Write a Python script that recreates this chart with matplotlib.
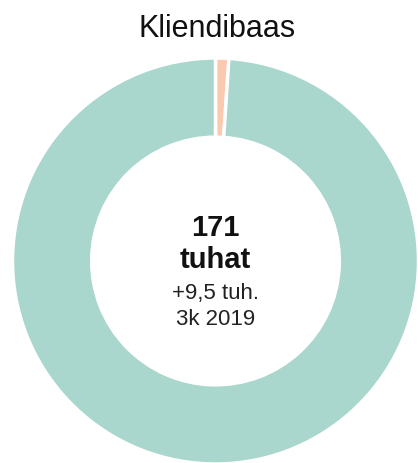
import matplotlib.pyplot as plt

# Kliendibaas (tuhat)
segments = ["Uued", "Olemasolevad"]
values = [1.8, 169.2]
colors = ["#fbc8b0", "#a9d6cd"]

title = "Kliendibaas"
center_big = ["171", "tuhat"]
center_small = ["+9,5 tuh.", "3k 2019"]

plt.rcParams["font.family"] = ["Liberation Sans", "DejaVu Sans"]

fig = plt.figure(figsize=(4.18, 4.64), dpi=100)
ax = fig.add_axes([0, 0, 1, 1])

# axes in pixel units, y upwards
cx, cy, r = 215.5, 464 - 262, 203
ax.pie(values, colors=colors, startangle=90, counterclock=False,
       center=(cx, cy), radius=r, frame=True,
       wedgeprops=dict(width=r * 0.39, edgecolor="white", linewidth=2.5))
ax.set_xlim(0, 418)
ax.set_ylim(0, 464)
ax.set_aspect("equal")
ax.axis("off")

ax.text(217, 464 - 37, title, ha="center", va="baseline", fontsize=22, color="#111111")
ax.text(cx, 464 - 236, center_big[0], ha="center", va="baseline",
        fontsize=21, fontweight="bold", color="#111111")
ax.text(cx, 464 - 268, center_big[1], ha="center", va="baseline",
        fontsize=21, fontweight="bold", color="#111111")
ax.text(cx, 464 - 299, center_small[0], ha="center", va="baseline",
        fontsize=16, color="#222222")
ax.text(cx, 464 - 325, center_small[1], ha="center", va="baseline",
        fontsize=16, color="#222222")

fig.savefig("out.png", dpi=100)
